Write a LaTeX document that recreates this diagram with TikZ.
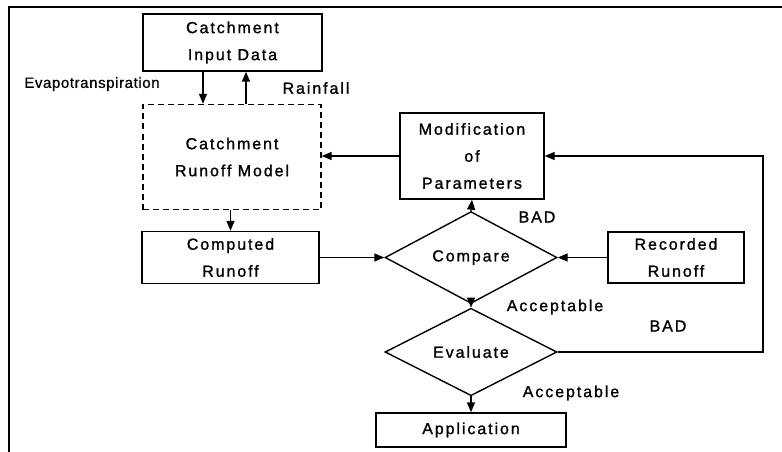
\documentclass[tikz,border=0pt]{standalone}
\usepackage{fontspec}
\setmainfont{Liberation Sans}
\newfontfamily\boxfont[LetterSpace=12,FakeBold=1.2]{Liberation Sans}
\newfontfamily\lblfont[LetterSpace=4,FakeBold=0.8]{Liberation Sans}
\usetikzlibrary{arrows.meta,shapes.geometric}
\begin{document}
\begin{tikzpicture}[x=1pt,y=-1pt,
  box/.style={draw,line width=1.4pt,rectangle,inner sep=0pt,align=center,
    font={\boxfont\fontsize{16}{27}\selectfont}},
  dbox/.style={box,dashed,dash pattern=on 6pt off 4pt},
  dia/.style={draw,line width=1.4pt,diamond,inner sep=0pt,align=center,
    font={\boxfont\fontsize{16}{27}\selectfont}},
  lbl/.style={inner sep=0pt,font={\boxfont\fontsize{16}{20}\selectfont}},
  arr/.style={line width=1.4pt,-{Triangle[length=10pt,width=8pt]}}]
\useasboundingbox (0,0) rectangle (782,452);
\draw[line width=2pt] (9,452) -- (9,7) -- (782,7);

\node[box,minimum width=179pt,minimum height=57pt] (inp) at (232.5,42.5) {Catchment\\Input Data};
\node[dbox,minimum width=178pt,minimum height=105pt] (model) at (232,157) {Catchment\\Runoff Model};
\node[box,minimum width=177pt,minimum height=52pt] (comp) at (230.5,257.5) {Computed\\Runoff};
\node[box,minimum width=144pt,minimum height=86pt] (mod) at (472,156) {Modification\\of\\Parameters};
\node[box,minimum width=136pt,minimum height=51pt] (rec) at (676,257.5) {Recorded\\Runoff};
\node[box,minimum width=190pt,minimum height=34pt] (app) at (471,430) {Application};
\node[dia,minimum width=172pt,minimum height=69pt] (cmp) at (471,257.5) {Compare};
\node[dia,minimum width=172pt,minimum height=70pt] (eva) at (471,352) {Evaluate};

\node[inner sep=0pt,font={\lblfont\fontsize{15}{18}\selectfont}] (evt) at (92,84) {Evapotranspiration};
\node[lbl] (rain) at (316,88) {Rainfall};
\node[lbl] (bad1) at (537,217) {BAD};
\node[lbl] (acc1) at (555,307) {Acceptable};
\node[lbl] (bad2) at (668,326) {BAD};
\node[lbl] (acc2) at (571,393) {Acceptable};

\draw[arr] ([xshift=-29.5pt]inp.south) -- ([xshift=-29pt]model.north);
\draw[arr] ([xshift=14pt]model.north) -- ([xshift=13.5pt]inp.south);
\draw[arr] (model.south -| comp) -- (comp.north);
\draw[arr] (mod.west) -- (mod.west -| model.east);
\draw[arr] (comp.east) -- (cmp.west);
\draw[arr] (rec.west) -- (cmp.east);
\draw[arr] (cmp.north) -- (mod.south);
\draw[arr] (cmp.south) -- (eva.north);
\draw[arr] (eva.south) -- (app.north);
\coordinate (rt) at (763,352);
\draw[arr] (eva.east) -- (rt) |- (mod.east);
\end{tikzpicture}
\end{document}
